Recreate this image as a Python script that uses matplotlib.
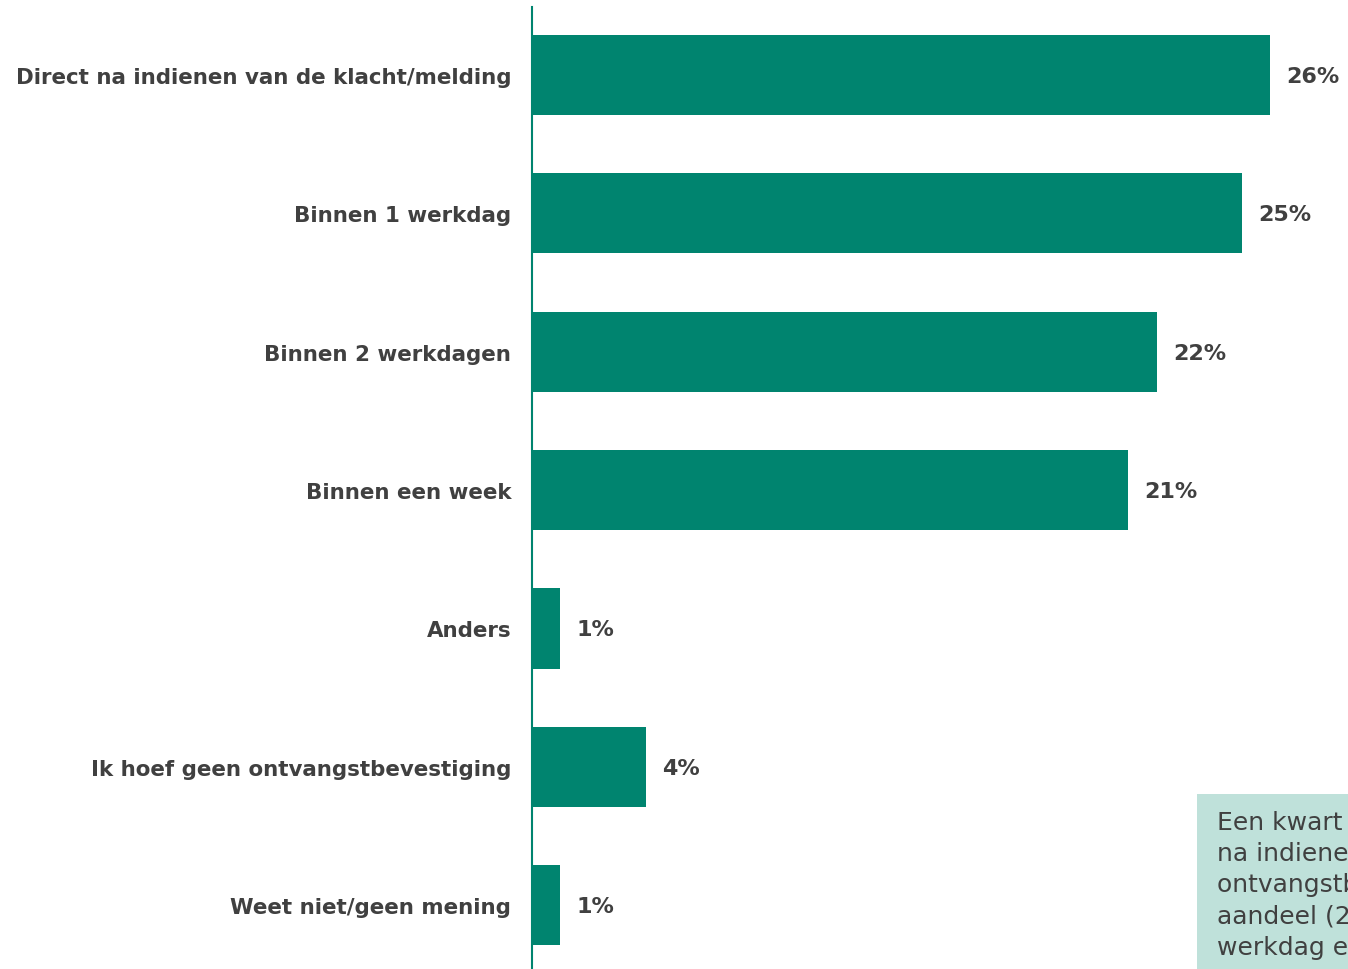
import matplotlib
matplotlib.use("Agg")
import matplotlib.pyplot as plt
from matplotlib.patches import Rectangle

categories = [
    "Direct na indienen van de klacht/melding",
    "Binnen 1 werkdag",
    "Binnen 2 werkdagen",
    "Binnen een week",
    "Anders",
    "Ik hoef geen ontvangstbevestiging",
    "Weet niet/geen mening",
]
values = [26, 25, 22, 21, 1, 4, 1]
value_labels = [f"{v}%" for v in values]

note_text = ("Een kwart van de respondenten wil direct\n"
             "na indienen van de klacht/melding een\n"
             "ontvangstbevestiging. Een vergelijkbaar\n"
             "aandeel (25%) wil dit binnen 1\n"
             "werkdag een ontvangstbevestiging.")

BAR_COLOR = "#00846F"
TEXT_COLOR = "#404040"
BOX_COLOR = "#BFE1DA"

W, H = 1348, 970
fig = plt.figure(figsize=(W / 100, H / 100), dpi=100)
ax = fig.add_axes([532 / W, 0, (W - 532) / W, (H - 8) / H])

y = list(range(len(categories)))
ax.barh(y, values, height=0.58, color=BAR_COLOR, zorder=2)
ax.set_xlim(0, (W - 532) / 28.4)
ax.set_ylim(6.46, -0.49)

for yi, v, lab in zip(y, values, value_labels):
    ax.annotate(lab, (v, yi), xytext=(16, -1), textcoords="offset pixels",
                ha="left", va="center", fontsize=16, fontweight="bold", color=TEXT_COLOR)

ax.set_yticks(y)
ax.set_yticklabels(categories, fontsize=15.4, fontweight="bold", color=TEXT_COLOR)
ax.tick_params(axis="y", length=0, pad=15)
ax.set_xticks([])
for side in ["top", "right", "bottom"]:
    ax.spines[side].set_visible(False)
ax.spines["left"].set_color(BAR_COLOR)
ax.spines["left"].set_linewidth(1.5)

# Commentary box in the lower right corner
fig.patches.append(Rectangle((1197 / W, 0), (W - 1197) / W + 0.05, (H - 795) / H,
                             transform=fig.transFigure, facecolor=BOX_COLOR,
                             edgecolor="none", zorder=0))
fig.text(1217 / W, 1 - 811 / H, note_text, ha="left", va="top", fontsize=18,
         color=TEXT_COLOR, linespacing=1.38)

fig.savefig("out.png", dpi=100)
